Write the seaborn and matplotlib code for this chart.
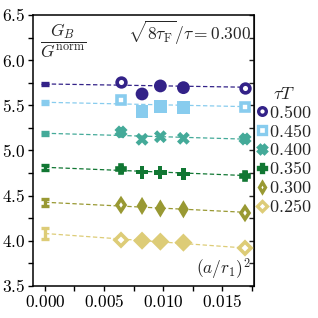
import numpy as np
import pandas as pd
import matplotlib
matplotlib.use("Agg")
import matplotlib.pyplot as plt
import seaborn as sns
from matplotlib.lines import Line2D
from matplotlib.ticker import MultipleLocator, FuncFormatter

# --- dados ---
x_lat = [0.00641, 0.00822, 0.00977, 0.01172, 0.01689]
tauT = ["0.500", "0.450", "0.400", "0.350", "0.300", "0.250"]
G_0500 = [5.761, 5.625, 5.714, 5.695, 5.695]
G_0450 = [5.559, 5.430, 5.490, 5.478, 5.478]
G_0400 = [5.200, 5.123, 5.152, 5.134, 5.123]
G_0350 = [4.790, 4.758, 4.754, 4.739, 4.722]
G_0300 = [4.396, 4.385, 4.357, 4.348, 4.312]
G_0250 = [4.008, 4.001, 3.990, 3.979, 3.918]
err_lat = [0.025, 0.03, 0.035, 0.03, 0.03, 0.03]
cont_val = [5.736, 5.533, 5.190, 4.813, 4.426, 4.080]
cont_err = [0.015, 0.015, 0.015, 0.025, 0.04, 0.06]
fit_end = [5.700, 5.485, 5.125, 4.722, 4.315, 3.920]

cores = ["#332288", "#88CCEE", "#44AA99", "#117733", "#999933", "#DDCC77"]
marcadores = ["o", "s", "X", "P", "d", "D"]
series = [G_0500, G_0450, G_0400, G_0350, G_0300, G_0250]

df = pd.DataFrame({
    "x": np.tile(x_lat, len(tauT)),
    "G": np.concatenate(series),
    "tauT": np.repeat(tauT, len(x_lat)),
})

sns.set_style("ticks")
plt.rcParams["mathtext.fontset"] = "cm"
plt.rcParams["font.family"] = ["DejaVu Serif"]

fig = plt.figure(figsize=(3.18, 3.18), dpi=100)
ax = fig.add_axes([0.104, 0.101, 0.695, 0.852])

pal = dict(zip(tauT, cores))
mk = dict(zip(tauT, marcadores))

# pontos do meio (cheios)
meio = df[df["x"].isin(x_lat[1:4])]
sns.scatterplot(data=meio, x="x", y="G", hue="tauT", style="tauT", palette=pal,
                markers=mk, s=85, edgecolor="none", legend=False, ax=ax, zorder=3)

handles = []
for i, t in enumerate(tauT):
    c = cores[i]
    # linha de ajuste
    ax.plot([0.0, x_lat[-1]], [cont_val[i], fit_end[i]], ls="--", lw=0.9,
            color=c, dashes=(3.5, 2), zorder=2)
    # limite do contínuo
    ax.errorbar([0.0], [cont_val[i]], yerr=[cont_err[i]], fmt="none", ecolor=c,
                elinewidth=2.4, capsize=3.2, capthick=2.4, zorder=3)
    # primeiro e último ponto (abertos com barra de erro)
    xs = [x_lat[0], x_lat[-1]]
    ys = [series[i][0], series[i][-1]]
    ax.errorbar(xs, ys, yerr=err_lat[i], fmt=marcadores[i], ms=6.3,
                mfc="white", mec=c, mew=2.6, ecolor=c, elinewidth=1.8,
                capsize=1.8, capthick=1.8, zorder=4)
    handles.append(Line2D([], [], ls="none", marker=marcadores[i], ms=5.5,
                          mfc="white", mec=c, mew=2.4))

ax.set_xlim(-0.001, 0.0177)
ax.set_ylim(3.5, 6.5)
ax.xaxis.set_major_locator(MultipleLocator(0.005))
ax.xaxis.set_minor_locator(MultipleLocator(0.0025))
ax.yaxis.set_major_locator(MultipleLocator(0.5))
ax.yaxis.set_minor_locator(MultipleLocator(0.25))
ax.xaxis.set_major_formatter(FuncFormatter(lambda v, p: f"${v:.3f}$"))
ax.yaxis.set_major_formatter(FuncFormatter(lambda v, p: f"${v:.1f}$"))
ax.tick_params(axis="both", which="both", direction="out", length=3.5, width=1,
               labelsize=12.5, pad=2, colors="black")
ax.set_xlabel("")
ax.set_ylabel("")
for s in ax.spines.values():
    s.set_visible(True)
    s.set_linewidth(1.1)
    s.set_color("black")

sec = ax.secondary_yaxis("right")
sec.yaxis.set_major_locator(MultipleLocator(0.25))
sec.tick_params(direction="in", length=3.5, width=1, labelright=False)

ax.text(0.03, 0.975, r"$\dfrac{G_B}{G^{\rm norm}}$", transform=ax.transAxes,
        ha="left", va="top", fontsize=12.5)
ax.text(0.985, 0.985, r"$\sqrt{8\tau_{\rm F}}/\tau = 0.300$", transform=ax.transAxes,
        ha="right", va="top", fontsize=12.5)
ax.text(0.985, 0.015, r"$(a/r_1)^2$", transform=ax.transAxes,
        ha="right", va="bottom", fontsize=12.5)

leg = ax.legend(handles, [f"${t}$" for t in tauT], title=r"$\tau T$",
                loc="center left", bbox_to_anchor=(1.0, 0.5), frameon=False,
                fontsize=13, title_fontsize=13, handlelength=0.55,
                handletextpad=0.15, labelspacing=0.05, borderaxespad=0.05,
                borderpad=0.1)

plt.savefig("out.png", dpi=100)
